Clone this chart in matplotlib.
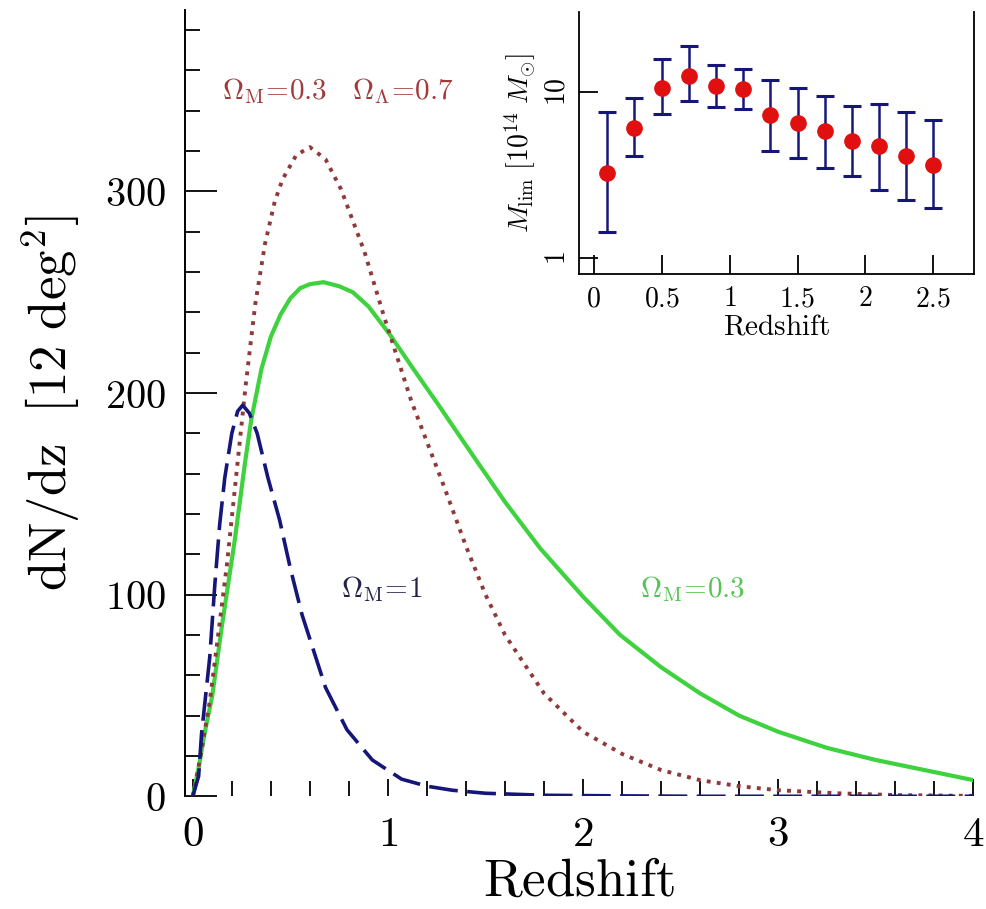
import numpy as np
import matplotlib
matplotlib.use("Agg")
import matplotlib.pyplot as plt
import matplotlib.transforms as mtransforms
from matplotlib.ticker import MultipleLocator, FuncFormatter, NullLocator, FixedLocator, NullFormatter

plt.rcParams["mathtext.fontset"] = "cm"
plt.rcParams["font.family"] = ["DejaVu Serif"]

# main panel: dN/dz vs redshift
z_blue = [0, 0.03, 0.045, 0.087, 0.113, 0.138, 0.164, 0.2, 0.23, 0.256, 0.29, 0.33,
          0.385, 0.445, 0.5, 0.56, 0.62, 0.68, 0.79, 0.92, 1.07, 1.2, 1.33, 1.5,
          1.8, 2.2, 2.6, 3.0, 3.5, 4.0]
n_blue = [0, 10, 31, 69, 105, 135, 158, 180, 191, 194, 190, 180,
          158, 137, 113, 90, 72, 54, 33, 18, 8.5, 5, 3, 1.5,
          0.5, 0.2, 0, 0, 0, 0]

z_red = [0, 0.04, 0.087, 0.13, 0.175, 0.215, 0.27, 0.32, 0.37, 0.42, 0.46, 0.53,
         0.6, 0.68, 0.76, 0.88, 0.98, 1.12, 1.29, 1.4, 1.5, 1.6, 1.8, 2.0,
         2.2, 2.4, 2.6, 2.8, 3.0, 3.3, 3.6, 4.0]
n_red = [0, 20, 47, 80, 115, 152, 203, 244, 274, 295, 306, 318,
         322, 316, 301, 270, 238, 196, 153, 124, 100, 80, 51, 32,
         21, 13, 8, 5, 3, 1.5, 0.6, 0.2]

z_green = [0, 0.03, 0.06, 0.1, 0.15, 0.215, 0.267, 0.3, 0.352, 0.4, 0.45, 0.5,
           0.55, 0.6, 0.67, 0.75, 0.82, 0.9, 1.01, 1.13, 1.26, 1.33, 1.45, 1.6,
           1.78, 2.0, 2.19, 2.4, 2.6, 2.8, 3.0, 3.25, 3.5, 3.75, 4.0]
n_green = [0, 14, 31, 50, 85, 127, 165, 187, 212, 228, 239, 247,
           252, 254, 255, 253, 250, 243, 229, 212, 194, 184, 167, 146,
           123, 99, 80, 64, 51, 40, 32, 24, 18, 13, 8]

# inset: limiting mass per redshift bin
z_bin = [0.1, 0.3, 0.5, 0.7, 0.9, 1.1, 1.3, 1.5, 1.7, 1.9, 2.1, 2.3, 2.5]
m_lim = [3.24, 6.04, 10.6, 12.5, 10.8, 10.4, 7.27, 6.48, 5.77, 5.02, 4.69, 4.08, 3.63]
m_hi = [7.51, 9.16, 15.7, 18.8, 14.5, 13.7, 11.8, 10.6, 9.38, 8.24, 8.43, 7.51, 6.72]
m_lo = [1.43, 4.08, 7.34, 8.74, 8.05, 7.86, 4.43, 3.98, 3.47, 3.12, 2.57, 2.24, 1.99]
m_ticks = [1, 10]

C_GREEN = "#3ed23e"
C_RED = "#8e3a3a"
C_BLUE = "#16167a"

fig = plt.figure(figsize=(9.86, 9.09), dpi=100)
ax = fig.add_axes([0.1876, 0.124, 0.7996, 0.865])

ax.plot(z_green, n_green, color=C_GREEN, lw=3.0, solid_capstyle="round")
ax.plot(z_red, n_red, color=C_RED, lw=2.8, linestyle=(0, (1, 1.6)))
ax.plot(z_blue, n_blue, color=C_BLUE, lw=2.6, linestyle=(0, (8, 2.6)))

ax.set_xlim(-0.04, 4.0)
ax.set_ylim(0, 390)
for s in ["top", "right", "bottom"]:
    ax.spines[s].set_visible(False)
ax.spines["left"].set_linewidth(1.4)

ax.xaxis.set_major_locator(MultipleLocator(1))
ax.xaxis.set_minor_locator(MultipleLocator(0.2))
ax.yaxis.set_major_locator(FixedLocator([0, 100, 200, 300]))
ax.yaxis.set_minor_locator(MultipleLocator(20))
fmt = FuncFormatter(lambda v, p: f"${v:g}$")
ax.xaxis.set_major_formatter(fmt)
ax.yaxis.set_major_formatter(fmt)
ax.tick_params(axis="both", which="both", direction="in", width=1.3, color="black")
ax.tick_params(axis="y", which="major", length=23, pad=14, labelsize=29)
ax.tick_params(axis="y", which="minor", length=11)
ax.tick_params(axis="x", which="major", length=12, pad=12, labelsize=31)
ax.tick_params(axis="x", which="minor", length=11)

ax.set_xlabel(r"$\mathrm{Redshift}$", fontsize=38)
ax.xaxis.set_label_coords(0.5, -0.075)
ax.set_ylabel(r"$\mathrm{dN/dz}\ \ [12\ \mathrm{deg}^2]$", fontsize=38)
ax.yaxis.set_label_coords(-0.13, 0.5)

ax.text(0.15, 350, r"$\Omega_{\rm M}\!=\!0.3\quad\Omega_{\Lambda}\!=\!0.7$",
        color="#a33a3a", fontsize=21, ha="left", va="center")
ax.text(0.76, 103, r"$\Omega_{\rm M}\!=\!1$", color="#22224a", fontsize=21,
        ha="left", va="center")
ax.text(2.29, 103, r"$\Omega_{\rm M}\!=\!0.3$", color="#55c455", fontsize=21,
        ha="left", va="center")

# inset
ins = fig.add_axes([0.587, 0.6986, 0.401, 0.2884])
yerr = [np.array(m_lim) - np.array(m_lo), np.array(m_hi) - np.array(m_lim)]
ins.errorbar(z_bin, m_lim, yerr=yerr, fmt="none", ecolor=C_BLUE, elinewidth=1.8,
             capsize=6.5, capthick=2.2, zorder=2)
ins.plot(z_bin, m_lim, "o", color="#e01010", markersize=11, zorder=3)
ins.set_yscale("log")
ins.set_xlim(-0.11, 2.80)
ins.set_ylim(0.80, 30.3)
ins.spines["top"].set_visible(False)
for s in ["left", "bottom", "right"]:
    ins.spines[s].set_linewidth(1.3)
ins.xaxis.set_major_locator(MultipleLocator(0.5))
ins.xaxis.set_major_formatter(fmt)
ins.yaxis.set_major_locator(FixedLocator(m_ticks))
ins.yaxis.set_minor_locator(NullLocator())
ins.yaxis.set_major_formatter(NullFormatter())
ins.tick_params(axis="both", which="both", direction="in", width=1.3)
ins.tick_params(axis="x", length=14, pad=8, labelsize=20)
ins.tick_params(axis="y", length=14, right=False)

# rotated y tick labels of the inset (as in the original)
trans = mtransforms.blended_transform_factory(ins.transAxes, ins.transData)
for v in m_ticks:
    ins.text(-0.055, v, f"${v}$", transform=trans, rotation=90, fontsize=20,
             ha="center", va="center")

ins.set_xlabel(r"$\mathrm{Redshift}$", fontsize=21, labelpad=0)
ins.set_ylabel(r"$M_{\rm lim}\ [10^{14}\ M_{\odot}]$", fontsize=20, labelpad=26)

fig.savefig("out.png", dpi=100)
